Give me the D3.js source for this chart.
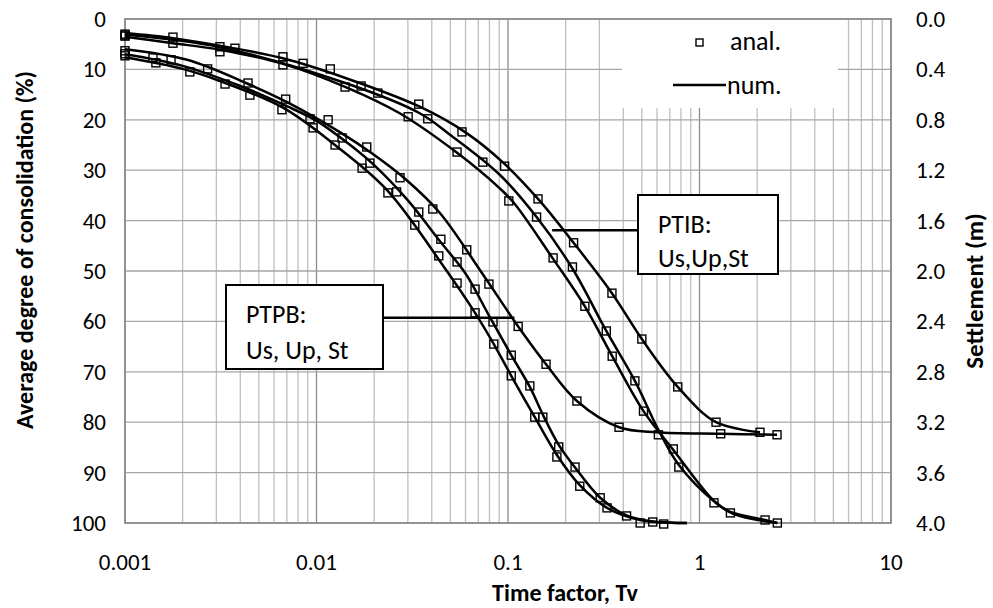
<!DOCTYPE html>
<html>
<head>
<meta charset="utf-8">
<script src="https://cdn.jsdelivr.net/npm/d3@7"></script>
<style>
body{margin:0;background:#fff;}
text{font-family:Carlito,Calibri,Lato,sans-serif;fill:#000;}
</style>
</head>
<body>
<svg id="chart" width="993" height="608"></svg>
<script>
// tick labels
const xTicks = [0.001, 0.01, 0.1, 1, 10];
const leftTicks = [0, 10, 20, 30, 40, 50, 60, 70, 80, 90, 100];
const rightTicks = [0, 0.4, 0.8, 1.2, 1.6, 2.0, 2.4, 2.8, 3.2, 3.6, 4.0];

// PTPB, degree of consolidation (%) vs Tv
const ptpbA_num = [[0.001,7.6],[0.002,9.9],[0.00313,12.3],[0.00668,17.6],[0.0122,24.7],[0.0233,33.9],[0.0469,49.5],[0.0673,58.3],[0.0843,64.5],[0.104,70.8],[0.138,79],[0.18,86.5],[0.237,92.5],[0.329,97],[0.49,99.4],[0.86,100]];
const ptpbA_anal = [[0.001,7.3],[0.00145,8.7],[0.00218,10.5],[0.00333,12.9],[0.00449,15.1],[0.0066,18],[0.0096,21.6],[0.0125,25],[0.0173,29.6],[0.0236,34.5],[0.0326,40.9],[0.0435,47],[0.0542,52.4],[0.0673,58.3],[0.0843,64.5],[0.104,70.8],[0.138,79],[0.18,86.9],[0.237,92.7],[0.329,97],[0.49,100]];
const ptpbB_num = [[0.001,7.0],[0.002,9.3],[0.004,13.3],[0.007,17.3],[0.01,20.2],[0.015,25],[0.02,29],[0.03,36],[0.045,44.5],[0.06,50.5],[0.08,59],[0.104,66.7],[0.13,73],[0.152,78.5],[0.184,84.5],[0.224,89],[0.303,95],[0.416,98.5],[0.57,99.7],[0.86,100]];
const ptpbB_anal = [[0.001,6.9],[0.0014,7.7],[0.00925,19.8],[0.0136,23.6],[0.019,28.6],[0.0262,34.3],[0.0342,38.3],[0.0446,43.7],[0.0542,48.2],[0.0673,53.6],[0.0835,60.1],[0.104,66.7],[0.13,72.8],[0.152,79],[0.184,84.9],[0.224,88.9],[0.303,95],[0.416,98.6],[0.57,99.8],[0.65,100.2]];
// PTPB settlement (m)
const ptpbSt_num = [[0.001,0.24],[0.00211,0.324],[0.00434,0.512],[0.00702,0.66],[0.0133,0.90],[0.0197,1.072],[0.0296,1.28],[0.0441,1.54],[0.0731,2.016],[0.113,2.44],[0.158,2.74],[0.229,3.032],[0.38,3.24],[0.6,3.28],[1.29,3.292],[2.54,3.30]];
const ptpbSt_anal = [[0.001,0.252],[0.00174,0.324],[0.0027,0.396],[0.00439,0.508],[0.0069,0.636],[0.0115,0.80],[0.0183,1.016],[0.0273,1.26],[0.0405,1.508],[0.0609,1.832],[0.0795,2.104],[0.113,2.44],[0.158,2.74],[0.229,3.032],[0.38,3.24],[1.29,3.292],[2.54,3.30]];

// PTIB, degree of consolidation (%) vs Tv
const ptibA_num = [[0.001,3.5],[0.00178,4.8],[0.00313,6.1],[0.00668,8.9],[0.0144,13.6],[0.0272,18.7],[0.054,26.5],[0.09,33.5],[0.108,36.6],[0.172,47.6],[0.252,57],[0.35,66.9],[0.51,77.8],[0.73,85.5],[1.19,95.6],[1.45,97.8],[2.2,99.4],[2.55,100]];
const ptibA_anal = [[0.001,3.2],[0.00178,4.8],[0.00313,6.5],[0.00668,9.1],[0.0141,13.5],[0.0301,19.4],[0.0542,26.4],[0.101,36.1],[0.172,47.4],[0.252,57],[0.35,66.9],[0.51,77.8],[0.73,85.3],[1.19,96],[2.2,99.4]];
const ptibB_num = [[0.001,3.1],[0.00313,5.6],[0.0144,12.8],[0.0346,18.7],[0.05,23],[0.09,30.8],[0.141,39.3],[0.217,49.5],[0.326,61.9],[0.46,71.8],[0.61,81.5],[0.78,88.5],[1.2,95.8],[1.5,98.2],[2.55,100]];
const ptibB_anal = [[0.001,3.4],[0.00375,5.8],[0.00851,8.8],[0.0171,13.3],[0.0381,19.8],[0.0739,28.4],[0.141,39.3],[0.217,49.2],[0.326,61.9],[0.46,71.8],[0.61,82.5],[0.78,88.9],[1.45,98],[2.55,100]];
// PTIB settlement (m)
const ptibSt_num = [[0.001,0.112],[0.00178,0.152],[0.00313,0.212],[0.00668,0.312],[0.0144,0.472],[0.0346,0.696],[0.06,0.90],[0.095,1.144],[0.1435,1.428],[0.22,1.776],[0.349,2.176],[0.5,2.54],[0.77,2.92],[1.22,3.20],[2.07,3.28]];
const ptibSt_anal = [[0.001,0.12],[0.00178,0.144],[0.00313,0.22],[0.00668,0.30],[0.0118,0.396],[0.0209,0.588],[0.0342,0.676],[0.0575,0.896],[0.096,1.168],[0.1435,1.428],[0.22,1.776],[0.349,2.176],[0.5,2.54],[0.77,2.92],[1.22,3.20],[2.07,3.28]];

const plot = {left: 125, right: 891, top: 19, bottom: 523};

const svg = d3.select("#chart");

let x = d3.scaleLog().domain([0.001, 10]).range([plot.left, plot.right]);
let yL = d3.scaleLinear().domain([0, 100]).range([plot.top, plot.bottom]);
let yR = d3.scaleLinear().domain([0, 4]).range([plot.top, plot.bottom]);

// grid
let grid = svg.append("g").attr("class", "grid");
grid.selectAll("line.v")
    .data(x.ticks())
    .enter().append("line")
    .attr("x1", d => x(d)).attr("x2", d => x(d))
    .attr("y1", plot.top).attr("y2", plot.bottom)
    .attr("stroke", d => xTicks.indexOf(d) != -1 ? "#8c8c8c" : "#bfbfbf")
    .attr("stroke-width", 1.3);
grid.selectAll("line.h")
    .data(leftTicks)
    .enter().append("line")
    .attr("x1", plot.left).attr("x2", plot.right)
    .attr("y1", d => yL(d)).attr("y2", d => yL(d))
    .attr("stroke", "#a6a6a6")
    .attr("stroke-width", 1.3);
svg.append("rect")
    .attr("x", plot.left).attr("y", plot.top)
    .attr("width", plot.right - plot.left).attr("height", plot.bottom - plot.top)
    .attr("fill", "none").attr("stroke", "#868686").attr("stroke-width", 1.5);

// legend box (covers grid)
let legend = svg.append("g");
legend.append("rect")
    .attr("x", 622).attr("y", 20).attr("width", 216).attr("height", 88)
    .attr("fill", "#fff");
legend.append("rect")
    .attr("x", 696).attr("y", 39).attr("width", 7).attr("height", 7)
    .attr("fill", "none").attr("stroke", "#000").attr("stroke-width", 1.4);
legend.append("text").attr("x", 730).attr("y", 50).style("font-size", "26px").text("anal.");
legend.append("line")
    .attr("x1", 673).attr("x2", 726).attr("y1", 85).attr("y2", 85)
    .attr("stroke", "#000").attr("stroke-width", 2.5);
legend.append("text").attr("x", 727).attr("y", 94).style("font-size", "26px").text("num.");

// axes labels
let axisG = svg.append("g");
axisG.selectAll("text.xt")
    .data(xTicks)
    .enter().append("text")
    .attr("x", d => x(d)).attr("y", 570)
    .attr("text-anchor", "middle")
    .style("font-size", "23px")
    .text(d => d);
axisG.selectAll("text.yl")
    .data(leftTicks)
    .enter().append("text")
    .attr("x", 106).attr("y", d => yL(d) + 8)
    .attr("text-anchor", "end")
    .style("font-size", "23px")
    .text(d => d);
axisG.selectAll("text.yr")
    .data(rightTicks)
    .enter().append("text")
    .attr("x", 916).attr("y", d => yR(d) + 8)
    .attr("text-anchor", "start")
    .style("font-size", "23px")
    .text(d => d3.format(".1f")(d));

axisG.append("text")
    .attr("x", 565).attr("y", 601)
    .attr("text-anchor", "middle")
    .style("font-size", "24px").style("font-weight", "bold")
    .text("Time factor, Tv");
axisG.append("text")
    .attr("transform", "translate(33,250) rotate(-90)")
    .attr("text-anchor", "middle")
    .style("font-size", "24px").style("font-weight", "bold")
    .text("Average degree of consolidation (%)");
axisG.append("text")
    .attr("transform", "translate(983,291) rotate(-90)")
    .attr("text-anchor", "middle")
    .style("font-size", "25px").style("font-weight", "bold")
    .text("Settlement (m)");

// series
let series = [
    {num: ptpbA_num, anal: ptpbA_anal, y: yL},
    {num: ptpbB_num, anal: ptpbB_anal, y: yL},
    {num: ptpbSt_num, anal: ptpbSt_anal, y: yR},
    {num: ptibA_num, anal: ptibA_anal, y: yL},
    {num: ptibB_num, anal: ptibB_anal, y: yL},
    {num: ptibSt_num, anal: ptibSt_anal, y: yR}
];

let lineG = svg.append("g");
series.forEach(s => {
    let gen = d3.line()
        .x(d => x(d[0]))
        .y(d => s.y(d[1]))
        .curve(d3.curveCatmullRom.alpha(0.5));
    lineG.append("path")
        .attr("d", gen(s.num))
        .attr("fill", "none")
        .attr("stroke", "#000")
        .attr("stroke-width", 2.5);
});
let markG = svg.append("g");
series.forEach(s => {
    markG.selectAll(null)
        .data(s.anal)
        .enter().append("rect")
        .attr("x", d => x(d[0]) - 4)
        .attr("y", d => s.y(d[1]) - 4)
        .attr("width", 8).attr("height", 8)
        .attr("fill", "none")
        .attr("stroke", "#000")
        .attr("stroke-width", 1.4);
});

// annotations
function callout(bx, by, bw, bh, lines, base, tx, ty, px, py){
    let g = svg.append("g");
    g.append("line")
        .attr("x1", tx).attr("y1", ty).attr("x2", px).attr("y2", py)
        .attr("stroke", "#000").attr("stroke-width", 2.5);
    g.append("rect")
        .attr("x", bx).attr("y", by).attr("width", bw).attr("height", bh)
        .attr("fill", "#fff").attr("stroke", "#000").attr("stroke-width", 2);
    lines.forEach((t, i) => {
        g.append("text")
            .attr("x", bx + 20).attr("y", base[i])
            .style("font-size", "26px")
            .text(t);
    });
}
// PTIB leader anchored on the curves at Tv ~0.17
callout(638, 195, 140, 79, ["PTIB:", "Us,Up,St"], [233, 267], x(0.17), yL(41.9), 638, yL(41.9));
// PTPB leader anchored at Tv ~0.108
callout(226, 285, 157, 84, ["PTPB:", "Us, Up, St"], [323, 359], 383, yL(59.3), x(0.108), yL(59.3));
</script>
</body>
</html>
